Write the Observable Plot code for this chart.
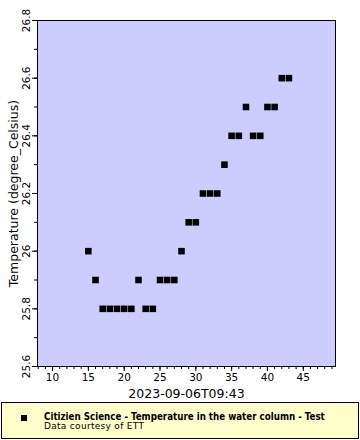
<!DOCTYPE html>
<html>
<head>
<meta charset="utf-8">
<script src="https://cdn.jsdelivr.net/npm/d3@7"></script>
<script src="https://cdn.jsdelivr.net/npm/@observablehq/plot@0.6"></script>
<style>
  html, body { margin: 0; padding: 0; background: #fff; width: 360px; height: 440px; overflow: hidden; }
  #chart svg { display: block; }
  #legend {
    position: absolute; left: 1px; top: 402px; width: 356px; height: 35px;
    background: #ffffcc; border: 1px solid #000; box-sizing: content-box;
    font-family: "DejaVu Sans Condensed", "DejaVu Sans", sans-serif;
  }
  #legend .mk { position: absolute; left: 19px; top: 12px; width: 6px; height: 6px; background: #000; }
  #legend .t1 { position: absolute; left: 42px; top: 9px; font-size: 9.7px; font-weight: bold; line-height: 10px; white-space: nowrap; }
  #legend .t2 { position: absolute; left: 42px; top: 18px; font-size: 9px; line-height: 10px; white-space: nowrap; font-family: "DejaVu Sans", sans-serif; letter-spacing: 0.3px; }
</style>
</head>
<body>
<div id="chart"></div>
<div id="legend"><div class="mk"></div><div class="t1">Citizien Science - Temperature in the water column - Test</div><div class="t2">Data courtesy of ETT</div></div>
<script>
const xValues = [15,16,17,18,19,20,21,22,23,24,25,26,27,28,29,30,31,32,33,34,35,36,37,38,39,40,41,42,43];
const temperature = [26.0,25.9,25.8,25.8,25.8,25.8,25.8,25.9,25.8,25.8,25.9,25.9,25.9,26.0,26.1,26.1,26.2,26.2,26.2,26.3,26.4,26.4,26.5,26.4,26.4,26.5,26.5,26.6,26.6];
const xMajorTicks = [10,15,20,25,30,35,40,45];
const yMajorTicks = [25.6,25.8,26.0,26.2,26.4,26.6,26.8];
const yTickLabels = ["25.6","25.8","26","26.2","26.4","26.6","26.8"];

const data = xValues.map((x, i) => ({x, t: temperature[i]}));
const xMinor = d3.range(8, 50, 1);
const yMinor = d3.range(256, 269, 1).map(v => v / 10);

const chart = Plot.plot({
  width: 360,
  height: 400,
  marginLeft: 37,
  marginRight: 25,
  marginTop: 20,
  marginBottom: 34,
  style: {fontFamily: "DejaVu Sans, sans-serif", fontSize: "10px", background: "transparent", color: "#000"},
  x: {domain: [7.9, 49.5], label: null},
  y: {domain: [25.6, 26.8], label: null},
  marks: [
    Plot.frame({fill: "#ccccff"}),
    Plot.dot(data, {x: "x", y: "t", symbol: "square", r: 3.7, fill: "#000", stroke: null}),
    Plot.axisX({ticks: xMinor, tickSize: 3, text: null, stroke: "#000"}),
    Plot.axisX({ticks: xMajorTicks, tickSize: 5, tickPadding: 2, stroke: "#000", fontSize: 10.5,
      label: "2023-09-06T09:43", labelAnchor: "center", labelArrow: "none", labelOffset: 31}),
    Plot.axisY({ticks: yMinor, tickSize: 3, text: null, stroke: "#000"}),
    Plot.axisY({ticks: yMajorTicks, tickSize: 5, tickPadding: 3, tickRotate: -90, stroke: "#000", fontSize: 10.5,
      tickFormat: (d) => yTickLabels[yMajorTicks.indexOf(d)] ?? String(d),
      label: "Temperature (degree_Celsius)", labelAnchor: "center", labelArrow: "none", labelOffset: 28}),
    Plot.frame({stroke: "#000", strokeWidth: 1})
  ]
});
chart.querySelectorAll('g[aria-label="x-axis label"] text, g[aria-label="y-axis label"] text').forEach(t => t.setAttribute("font-size", "12.5px"));
document.getElementById("chart").appendChild(chart);
</script>
</body>
</html>
